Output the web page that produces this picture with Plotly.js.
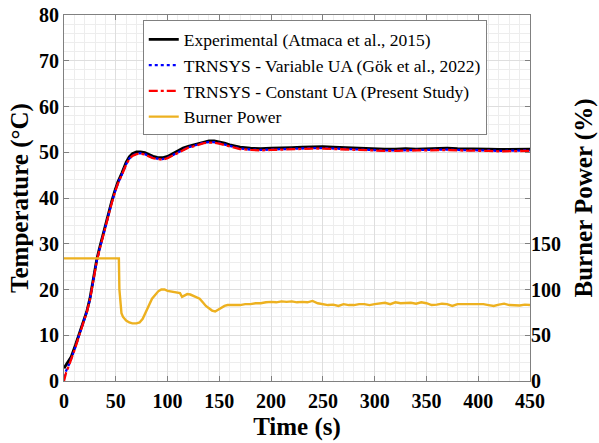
<!DOCTYPE html>
<html><head><meta charset="utf-8">
<script src="https://cdn.plot.ly/plotly-3.0.1.min.js"></script>
<style>html,body{margin:0;padding:0;background:#fff}#c{width:599px;height:443px}</style>
</head><body><div id="c"></div>
<script>
// Experimental (Atmaca et al., 2015)
const tExp = [0,3,7,11,15,18,22,25,27,29,31.5,34,36,39,43,46,49,52,56,60,63,66,70,74,78,82,86,90,95,100,105,110,115,120,125,130,135,140,145,150,155,160,165,170,180,190,200,210,220,230,240,250,260,270,280,290,300,310,320,330,340,350,360,370,380,390,400,410,420,430,440,450];
const TExp = [2.8,3.8,5.3,7.8,10.6,12.6,15.2,18,20.5,23.5,26.4,28.8,30.6,33.3,36.7,39.2,41.5,43.5,45.5,47.8,49,49.7,50.1,50.1,49.9,49.5,49.1,48.9,48.8,49.1,49.7,50.3,50.9,51.3,51.6,52,52.3,52.5,52.5,52.3,52,51.6,51.3,51.1,50.9,50.8,50.9,50.9,51.0,51.1,51.2,51.2,51.1,51.0,50.9,50.8,50.8,50.7,50.7,50.8,50.7,50.8,50.8,50.9,50.8,50.8,50.7,50.7,50.6,50.6,50.6,50.7];
// TRNSYS - Variable UA (Gök et al., 2022)
const tVar = [0,2,5,8,11,15,18,22,25,27,29,31.5,34,36,39,43,46,49,52,56,60,63,66,70,74,78,82,86,90,95,100,105,110,115,120,125,130,135,140,145,150,155,160,165,170,180,190,200,210,220,230,240,250,260,270,280,290,300,310,320,330,340,350,360,370,380,390,400,410,420,430,440,450];
const TVar = [0.8,2.2,3.7,5.4,7.4,10.3,12.4,15.1,17.8,20.3,23.2,26.1,28.5,30.3,33.1,36.4,38.9,41.2,43.2,45.2,47.4,48.6,49.3,49.7,49.8,49.6,49.2,48.8,48.6,48.5,48.8,49.4,50.0,50.6,51.1,51.4,51.8,52.1,52.2,52.2,52.0,51.7,51.3,51.0,50.8,50.6,50.5,50.6,50.7,50.7,50.8,50.9,50.9,50.8,50.7,50.6,50.5,50.5,50.4,50.4,50.5,50.5,50.5,50.6,50.6,50.5,50.5,50.4,50.4,50.3,50.3,50.3,50.4];
// TRNSYS - Constant UA (Present Study)
const tCon = [0,2,5,8,11,15,18,22,25,27,29,31.5,34,36,39,43,46,49,52,56,60,63,66,70,74,78,82,86,90,95,100,105,110,115,120,125,130,135,140,145,150,155,160,165,170,180,190,200,210,220,230,240,250,260,270,280,290,300,310,320,330,340,350,360,370,380,390,400,410,420,430,440,450];
const TCon = [0,1.8,3.5,5.3,7.3,10.2,12.3,15,17.7,20.2,23.1,26,28.4,30.2,33,36.3,38.8,41.1,43.1,45.1,47.3,48.5,49.2,49.6,49.7,49.5,49.1,48.7,48.5,48.4,48.7,49.3,49.9,50.5,51,51.3,51.7,52,52.1,52.1,51.9,51.6,51.2,50.9,50.7,50.5,50.4,50.5,50.6,50.6,50.7,50.8,50.8,50.7,50.6,50.5,50.4,50.4,50.3,50.3,50.4,50.4,50.4,50.5,50.5,50.4,50.4,50.3,50.3,50.2,50.2,50.2,50.3];
// Burner Power (%)
const tBur = [0,53,53.5,54.5,55.5,57,60,63,66,70,73,76,79,82,85,88,91,94,97,100,103,106,109,112,114,116,119,122,125,128,131,134,137,140,143,146,149,152,155,158,162,166,170,175,180,185,190,195,200,205,210,215,220,225,230,235,240,245,250,255,260,265,270,275,280,285,290,295,300,305,310,315,320,325,330,335,340,345,350,355,360,365,370,375,380,385,390,395,400,405,410,415,420,425,430,435,440,445,450];
const PBur = [134,134,100,84,74,70,66,64,63,63,64,68,76,84,90,94,98,100,100,98.5,98,97,96.5,96,92,93.5,95,94.5,93,92,90,86,82,79.5,77,76,78,80,82,83,83,83.5,83,84,84,85,85,86,86.5,86,87,86.5,87,86,86.5,86,87.5,85,84,83,83.5,82,84,83,83,84,84,83,84,84.5,85.5,84,86,85,85,85.5,84.5,86,85,83,83.5,84.5,84,82,84,84,83.5,84,83.5,84,83,82,83.5,84.5,83,83,82.5,83.5,83];

const names = ['Experimental (Atmaca et al., 2015)','TRNSYS - Variable UA (Gök et al., 2022)','TRNSYS - Constant UA (Present Study)','Burner Power'];
const xTicks = [0,50,100,150,200,250,300,350,400,450];
const yTicks = [0,10,20,30,40,50,60,70,80];
const y2Ticks = [0,50,100,150];

const serif = 'Liberation Serif';
const traces = [
  {x:tExp,y:TExp,name:names[0],mode:'lines',line:{color:'#000000',width:2.8},yaxis:'y'},
  {x:tVar,y:TVar,name:names[1],mode:'lines',line:{color:'#0000ff',width:2.3,dash:'dot'},yaxis:'y'},
  {x:tCon,y:TCon,name:names[2],mode:'lines',line:{color:'#ff0000',width:2.3,dash:'dashdot'},yaxis:'y'},
  {x:tBur,y:PBur,name:names[3],mode:'lines',line:{color:'#EDB120',width:2.4},yaxis:'y2'}
];
const tickFont = {family:serif,size:20,color:'#000',weight:'bold'};
const titleFont = {family:serif,size:25,color:'#000',weight:'bold'};
const layout = {
  width:599,height:443,
  margin:{l:64,r:69,t:15,b:62},
  paper_bgcolor:'#fff',plot_bgcolor:'#fff',
  font:{family:serif},
  showlegend:true,
  legend:{x:0.169,y:0.985,xanchor:'left',yanchor:'top',bgcolor:'#fff',bordercolor:'#808080',borderwidth:1,
          font:{family:serif,size:17.5,color:'#000'},tracegroupgap:0,itemwidth:30},
  xaxis:{range:[0,450],tickvals:xTicks,ticktext:xTicks.map(String),ticks:'inside',ticklen:5,tickcolor:'#808080',
         showline:true,linecolor:'#808080',linewidth:1,mirror:'ticks',zeroline:false,
         showgrid:true,gridcolor:'#dedede',gridwidth:1,ticklabelstandoff:2,
         minor:{dtick:10,showgrid:true,gridcolor:'#ededed',ticks:''},
         tickfont:tickFont,title:{text:'Time (s)',font:titleFont,standoff:6}},
  yaxis:{range:[0,80],tickvals:yTicks,ticktext:yTicks.map(String),ticks:'inside',ticklen:5,tickcolor:'#808080',
         showline:true,linecolor:'#808080',linewidth:1,mirror:'ticks',zeroline:false,
         showgrid:true,gridcolor:'#dedede',gridwidth:1,
         minor:{dtick:2,showgrid:true,gridcolor:'#ededed',ticks:''},
         tickfont:tickFont,title:{text:'Temperature (°C)',font:titleFont,standoff:3}},
  yaxis2:{range:[0,400],overlaying:'y',side:'right',tickvals:y2Ticks,ticktext:y2Ticks.map(String),
          ticks:'',showgrid:false,zeroline:false,showline:false,
          tickfont:tickFont,title:{text:'Burner Power (%)',font:titleFont,standoff:14}}
};
Plotly.newPlot('c',traces,layout,{staticPlot:true,displayModeBar:false});
</script></body></html>
